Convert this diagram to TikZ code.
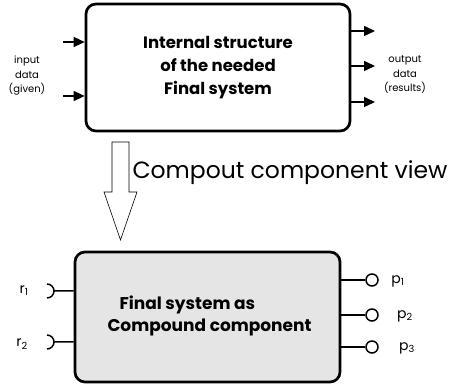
\documentclass[tikz,border=0pt]{standalone}
\usepackage{fontspec}
\setmainfont{Poppins}
\usepackage{tikz}
\usetikzlibrary{positioning, arrows.meta}

\begin{document}
\begin{tikzpicture}[x=1pt, y=1pt,
    block/.style = {draw,
                    rounded corners = 10pt,
                    line width = 2.7pt,
                    align = center},
    sig/.style = {line width = 1.5pt, -{Triangle[length=11pt, width=10pt]}},
    wire/.style = {line width = 1.5pt},
    note/.style = {font = \fontsize{10}{14.5}\selectfont, align = center},
    plug/.style = {draw, circle, line width = 1.5pt, minimum size = 12pt, inner sep = 0pt},
    pname/.style = {font = \fontsize{14}{16}\selectfont}]

    \useasboundingbox (0,0) rectangle (450,385);

    \node (sys) at (218,317.5) [block, minimum width = 264pt, minimum height = 127pt,
        font = \fontsize{16.5}{23}\selectfont\bfseries] {Internal structure\\ of the needed\\ Final system};

    \coordinate (in1) at (63,343);
    \coordinate (in2) at (63,289);
    \draw [sig] (in1) -- (in1 -| sys.west);
    \draw [sig] (in2) -- (in2 -| sys.west);
    \node (inlbl) at (27,309) [note] {input\\ data\\ (given)};

    \foreach \y [count = \i] in {354, 319, 283} {
        \coordinate (out\i) at (375,\y);
        \draw [sig] (out\i -| sys.east) -- (out\i);
    }
    \node (outlbl) at (405,310) [note] {output\\ data\\ (results)};

    \draw [line width = 0.6pt] (112,243) -- (112,193) -- (104,193) -- (120.5,145)
        -- (137,193) -- (129,193) -- (129,243) -- cycle;
    \node (view) at (129,212) [anchor = west, font = \fontsize{23.5}{27}\selectfont] {Compout component view};

    \node (comp) at (207.5,68) [block, fill = black!10, minimum width = 265pt, minimum height = 130pt] {};
    \node (comptxt) at (104,69) [anchor = west, align = left,
        font = \fontsize{17}{22}\selectfont\bfseries] {\hspace{12pt}Final system as\\ Compound component};

    \foreach \y [count = \i] in {94, 43} {
        \coordinate (r\i) at (54,\y);
        \draw [wire] (r\i -| comp.west) -- (r\i) ++(-7,7) arc [start angle = 90, end angle = -90, radius = 7];
    }
    \node (r1lbl) at (24,94) [pname] {r\textsubscript{1}};
    \node (r2lbl) at (22,41) [pname] {r\textsubscript{2}};

    \foreach \y/\x [count = \i] in {105/398, 70/405, 38/407} {
        \node (p\i) at (372,\y) [plug] {};
        \draw [wire] (p\i -| comp.east) -- (p\i);
        \node (p\i lbl) at (\x,\y-1) [pname] {p\textsubscript{\i}};
    }
\end{tikzpicture}
\end{document}
